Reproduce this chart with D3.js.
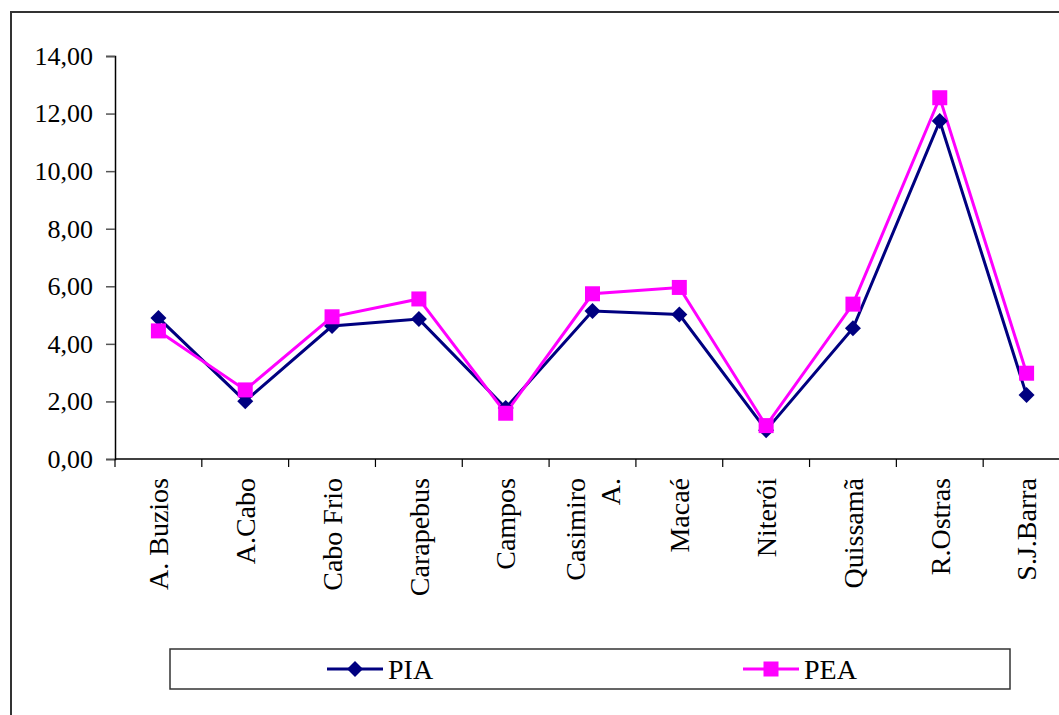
<!DOCTYPE html>
<html>
<head>
<meta charset="utf-8">
<script src="https://cdn.jsdelivr.net/npm/d3@7"></script>
<style>
  body { margin: 0; background: #fff; }
  svg { display: block; font-family: "Liberation Serif", "Times New Roman", serif; }
</style>
</head>
<body>
<div id="chart"></div>
<script>
// data
var categories = ['A. Buzios', 'A.Cabo', 'Cabo Frio', 'Carapebus', 'Campos', 'Casimiro A.', 'Macaé', 'Niterói', 'Quissamã', 'R.Ostras', 'S.J.Barra'];
var pia = [4.90, 2.01, 4.62, 4.86, 1.77, 5.14, 5.02, 1.00, 4.54, 11.74, 2.22];
var pea = [4.45, 2.40, 4.94, 5.56, 1.59, 5.74, 5.96, 1.16, 5.38, 12.55, 2.98];
var yTicks = [0, 2, 4, 6, 8, 10, 12, 14];
var seriesNames = ['PIA', 'PEA'];

const width = 1059;
const height = 715;
const plotLeft = 115, plotRight = 1070, plotTop = 56, plotBottom = 459;

const svg = d3.select('#chart').append('svg')
    .attr('width', width)
    .attr('height', height);

// outer frame (runs off the right and bottom of the picture)
svg.append('rect')
    .attr('x', 11).attr('y', 12)
    .attr('width', 1200).attr('height', 900)
    .attr('fill', 'none')
    .attr('stroke', '#333')
    .attr('stroke-width', 2);

const x = d3.scaleBand().domain(categories).range([plotLeft, plotRight]).padding(0);
const y = d3.scaleLinear().domain([0, 14]).range([plotBottom, plotTop]);
const cx = function(d) { return x(d) + x.bandwidth() / 2; };

// y axis
const yAxis = svg.append('g')
    .attr('transform', 'translate(' + plotLeft + ',0)')
    .call(d3.axisLeft(y).tickValues(yTicks).tickSize(9).tickPadding(13)
        .tickFormat(function(d) { return d3.format('.2f')(d).replace('.', ','); }));
yAxis.select('.domain').attr('stroke', '#000').attr('stroke-width', 1.5);
yAxis.selectAll('.tick line').attr('stroke', '#555').attr('stroke-width', 1.5);
yAxis.selectAll('.tick text')
    .attr('font-family', '"Liberation Serif", serif')
    .attr('font-size', 26)
    .attr('fill', '#000');

// x axis: line plus ticks between categories
svg.append('line')
    .attr('x1', plotLeft).attr('x2', plotRight)
    .attr('y1', plotBottom).attr('y2', plotBottom)
    .attr('stroke', '#000').attr('stroke-width', 1.5);
const edges = categories.map(function(d) { return x(d); }).concat([plotRight]);
svg.selectAll('.xtick').data(edges).enter().append('line')
    .attr('class', 'xtick')
    .attr('x1', function(d) { return d; }).attr('x2', function(d) { return d; })
    .attr('y1', plotBottom).attr('y2', plotBottom + 8)
    .attr('stroke', '#000').attr('stroke-width', 1.2);

// category labels, rotated
const labels = svg.selectAll('.xlabel').data(categories).enter().append('text')
    .attr('class', 'xlabel')
    .attr('transform', function(d) { return 'translate(' + cx(d) + ',478) rotate(-90)'; })
    .attr('text-anchor', 'end')
    .attr('font-size', 28)
    .attr('fill', '#000');
labels.each(function(d) {
    const lines = d === 'Casimiro A.' ? ['Casimiro', 'A.'] : [d];
    const t = d3.select(this);
    lines.forEach(function(s, i) {
        t.append('tspan')
            .attr('x', 0)
            .attr('y', (i - (lines.length - 1) / 2) * 35)
            .attr('dy', '0.35em')
            .text(s);
    });
});

// series
const line = d3.line()
    .x(function(d, i) { return cx(categories[i]); })
    .y(function(d) { return y(d); });

svg.append('path').datum(pia)
    .attr('d', line).attr('fill', 'none')
    .attr('stroke', '#000080').attr('stroke-width', 3);
svg.append('path').datum(pea)
    .attr('d', line).attr('fill', 'none')
    .attr('stroke', '#FF00FF').attr('stroke-width', 3);

const diamond = 'M0,-8L8,0L0,8L-8,0Z';

svg.selectAll('.pia').data(pia).enter().append('path')
    .attr('class', 'pia')
    .attr('d', diamond)
    .attr('transform', function(d, i) { return 'translate(' + cx(categories[i]) + ',' + y(d) + ')'; })
    .attr('fill', '#000080');

svg.selectAll('.pea').data(pea).enter().append('rect')
    .attr('class', 'pea')
    .attr('x', function(d, i) { return cx(categories[i]) - 7.5; })
    .attr('y', function(d) { return y(d) - 7.5; })
    .attr('width', 15).attr('height', 15)
    .attr('fill', '#FF00FF');

// legend
const legend = svg.append('g');
legend.append('rect')
    .attr('x', 170).attr('y', 649)
    .attr('width', 840).attr('height', 40)
    .attr('fill', '#fff')
    .attr('stroke', '#333').attr('stroke-width', 1.5);

const legendItems = [
    {name: seriesNames[0], color: '#000080', x: 327, shape: 'diamond'},
    {name: seriesNames[1], color: '#FF00FF', x: 743, shape: 'square'}
];
legendItems.forEach(function(it) {
    const g = legend.append('g').attr('transform', 'translate(' + it.x + ',669)');
    g.append('line').attr('x1', 0).attr('x2', 56).attr('y1', 0).attr('y2', 0)
        .attr('stroke', it.color).attr('stroke-width', 3);
    if (it.shape === 'diamond') {
        g.append('path').attr('d', diamond).attr('transform', 'translate(28,0)').attr('fill', it.color);
    } else {
        g.append('rect').attr('x', 20.5).attr('y', -7.5).attr('width', 15).attr('height', 15).attr('fill', it.color);
    }
    g.append('text').attr('x', 61).attr('dy', '0.35em')
        .attr('font-size', 28).attr('fill', '#000')
        .text(it.name);
});
</script>
</body>
</html>
